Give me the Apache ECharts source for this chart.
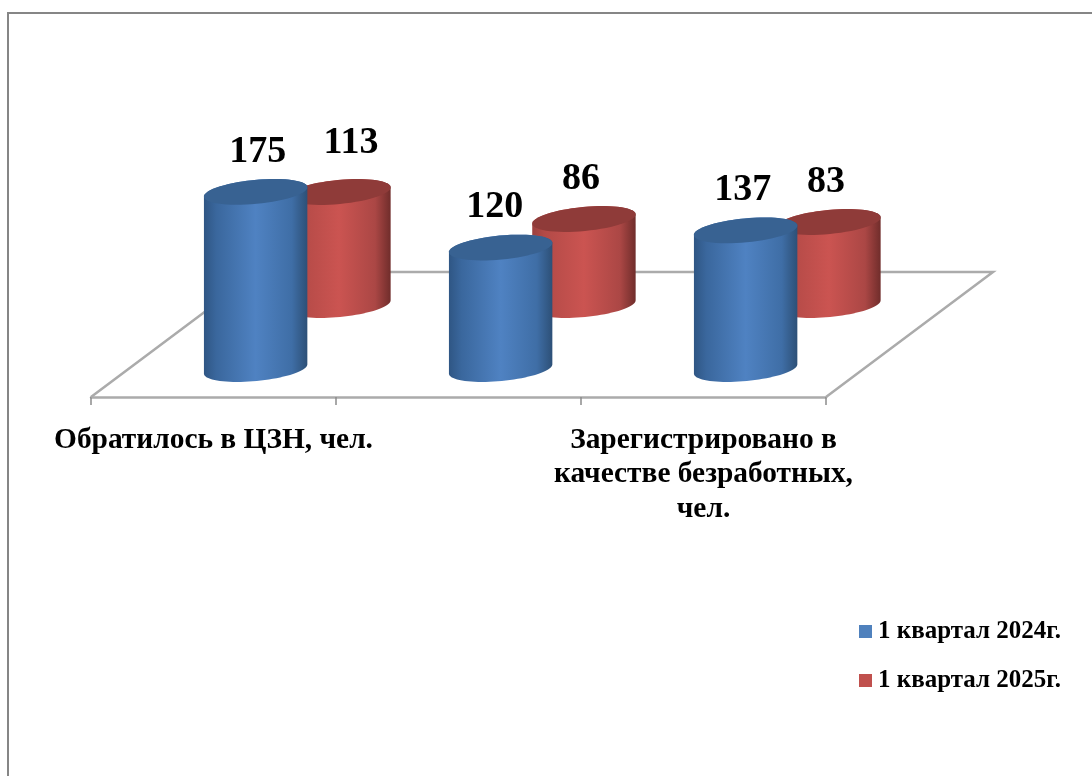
<!DOCTYPE html>
<html>
<head>
<meta charset="utf-8">
<style>html,body{margin:0;padding:0;background:#fff}#c{width:1092px;height:776px}</style>
<script src="https://cdn.jsdelivr.net/npm/echarts@6/dist/echarts.min.js"></script>
</head>
<body>
<div id="c"></div>
<script>
const categories = ["Обратилось в ЦЗН, чел.", "", "Зарегистрировано в\nкачестве безработных,\nчел."];
const seriesNames = ["1 квартал 2024г.", "1 квартал 2025г."];
const values2024 = [175, 120, 137];
const values2025 = [113, 86, 83];

const FONT = '"Liberation Serif"';
const chart = echarts.init(document.getElementById('c'), null, {renderer: 'canvas'});

function ellipsePts(cx, cy, rx, ry, tilt, from, to, n) {
  const pts = [];
  for (let i = 0; i <= n; i++) {
    const t = from + (to - from) * i / n;
    const ex = rx * Math.cos(t), ey = ry * Math.sin(t);
    pts.push([cx + ex * Math.cos(tilt) - ey * Math.sin(tilt), cy + ex * Math.sin(tilt) + ey * Math.cos(tilt)]);
  }
  return pts;
}

function cylinder(bandOffset, stops, topColor, nudge) {
  return function (params, api) {
    const band = api.size([1, 0])[0];
    const p = api.coord([api.value(0), api.value(1)]);
    const b = api.coord([api.value(0), 0]);
    const cx = p[0] + band * bandOffset;
    const rx = band * 0.212, ry = 12, tilt = -0.095;
    const body = ellipsePts(cx, b[1], rx, ry, tilt, 0, Math.PI, 40)
      .concat(ellipsePts(cx, p[1], rx, ry, tilt, Math.PI, 2 * Math.PI, 40));
    const n = nudge[params.dataIndex] || [0, 0];
    return {
      type: 'group',
      children: [
        {type: 'polygon', shape: {points: body},
          style: {fill: new echarts.graphic.LinearGradient(0, 0, 1, 0, stops)}},
        {type: 'polygon', shape: {points: ellipsePts(cx, p[1], rx, ry, tilt, 0, 2 * Math.PI, 60)},
          style: {fill: topColor}},
        {type: 'text', style: {text: String(api.value(1)), x: cx - 3 + n[0], y: p[1] - 40 + n[1],
          align: 'center', verticalAlign: 'middle', font: 'bold 38px ' + FONT, fill: '#000'}}
      ]
    };
  };
}

const blueStops = [
  {offset: 0, color: '#2f5684'}, {offset: 0.12, color: '#3a679d'}, {offset: 0.5, color: '#4f82c2'},
  {offset: 0.85, color: '#3f6ea6'}, {offset: 1, color: '#2d5077'}];
const redStops = [
  {offset: 0, color: '#9c413f'}, {offset: 0.12, color: '#b34a47'}, {offset: 0.5, color: '#cb5451'},
  {offset: 0.85, color: '#ab4745'}, {offset: 1, color: '#702d2b'}];

chart.setOption({
  animation: false,
  backgroundColor: '#fff',
  graphic: [{type: 'rect', shape: {x: 8, y: 13, width: 1300, height: 1000},
    style: {fill: null, stroke: '#868686', lineWidth: 2}, silent: true, z: -10}],
  legend: {
    orient: 'vertical', left: 854, top: 614, itemWidth: 13, itemHeight: 13, itemGap: 24, icon: 'rect',
    data: seriesNames, selectedMode: false,
    textStyle: {fontFamily: FONT, fontWeight: 'bold', fontSize: 25, color: '#000', padding: [4, 0, 0, 1]}
  },
  grid: [
    {left: 91, width: 735, top: 272, height: 125},
    {left: 91, width: 735, top: 116, height: 253},
    {left: 91, width: 735, top: 55, height: 250}
  ],
  xAxis: [
    {type: 'category', gridIndex: 0, data: categories,
      axisLine: {lineStyle: {color: '#ababab', width: 2.5}},
      axisTick: {show: true, length: 8, lineStyle: {color: '#8c8c8c', width: 1.5}},
      axisLabel: {interval: 0, margin: 26, fontFamily: FONT, fontWeight: 'bold', fontSize: 29.4, color: '#000', lineHeight: 34.5}},
    {type: 'category', gridIndex: 1, data: categories, show: false},
    {type: 'category', gridIndex: 2, data: categories, show: false}
  ],
  yAxis: [
    {type: 'value', gridIndex: 0, min: 0, max: 1, show: false},
    {type: 'value', gridIndex: 1, min: 0, max: 250, show: false},
    {type: 'value', gridIndex: 2, min: 0, max: 250, show: false}
  ],
  series: [
    {type: 'custom', name: 'floor', xAxisIndex: 0, yAxisIndex: 0, silent: true, z: 1, data: [[0, 0]],
      renderItem: function (params) {
        const r = params.coordSys, depth = 167;
        return {type: 'polyline', shape: {points: [
          [r.x, r.y + r.height], [r.x + depth, r.y], [r.x + r.width + depth, r.y], [r.x + r.width, r.y + r.height]]},
          style: {fill: null, stroke: '#ababab', lineWidth: 2.5}};
      }},
    {type: 'custom', name: seriesNames[1], xAxisIndex: 2, yAxisIndex: 2, z: 2,
      itemStyle: {color: '#c0504d'},
      data: values2025.map((v, i) => [i, v]),
      renderItem: cylinder(0.512, redStops, '#8f3b39', [[15, -9]])},
    {type: 'custom', name: seriesNames[0], xAxisIndex: 1, yAxisIndex: 1, z: 3,
      itemStyle: {color: '#4f81bd'},
      data: values2024.map((v, i) => [i, v]),
      renderItem: cylinder(0.172, blueStops, '#386292', [[5, 0], [-3, 0]])}
  ]
});
</script>
</body>
</html>
